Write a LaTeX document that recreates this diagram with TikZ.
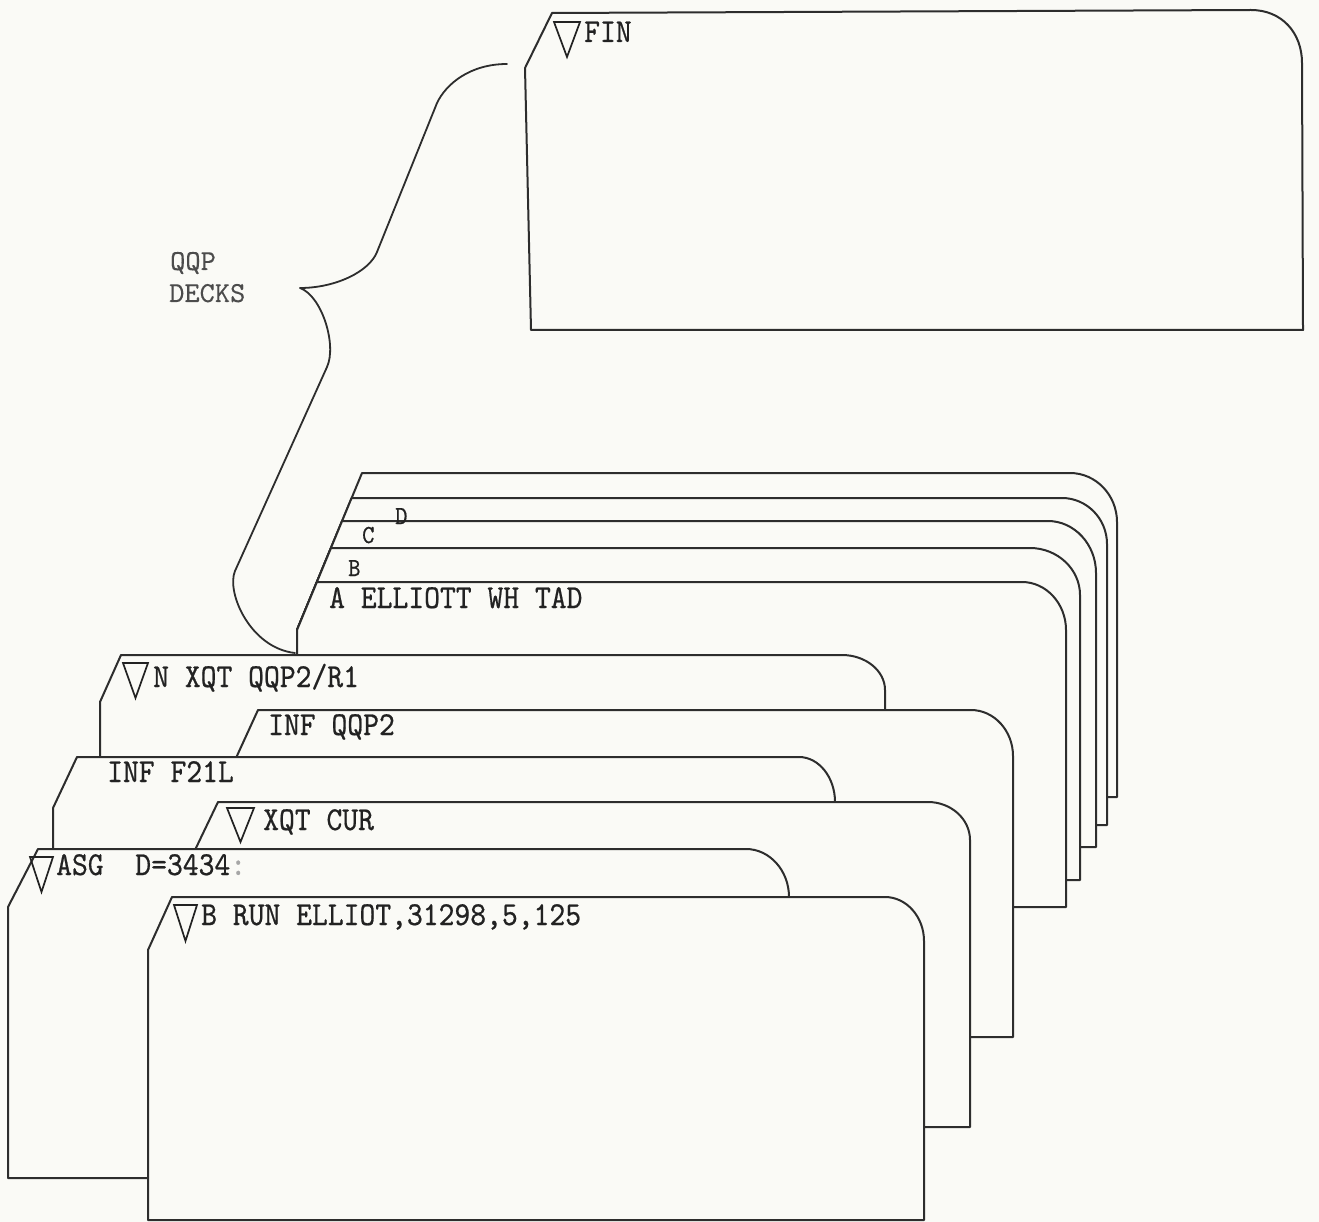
\documentclass[tikz,border=0pt]{standalone}
\usepackage{fontspec}
\setmonofont[FakeBold=0.6,FakeStretch=0.9]{lmmono10-regular.otf}
\newfontfamily\decksfont[FakeBold=0.2]{lmmono10-regular.otf}
\usepackage{tikz}
\definecolor{paper}{HTML}{FAFAF6}
\definecolor{ink}{HTML}{2D2D2D}
\definecolor{typ}{HTML}{222222}
\tikzset{
  cardline/.style={draw=ink, line width=2pt, fill=paper, line join=round},
  braceline/.style={draw=ink, line width=1.8pt, line cap=round, line join=round},
  tri/.style={draw=typ, line width=1.7pt, line join=miter},
  typed/.style={anchor=base west, inner sep=0pt, text=typ, font=\fontsize{33.5}{40}\selectfont\ttfamily},
  tablabel/.style={anchor=base west, inner sep=0pt, text=typ, font=\fontsize{26}{30}\selectfont\ttfamily},
  decklabel/.style={anchor=base west, inner sep=0pt, text=ink!85, font=\fontsize{29}{34}\selectfont\decksfont},
}
% #1,#2 top-left corner; #3,#4 end of slant; #5 right edge x; #6,#7 corner radii; #8 bottom y
\newcommand\cardshape[8]{%
  \path[cardline] (#1,#2) -- ({#5-#6},#2) .. controls ({#5-0.45*#6},#2) and (#5,{#2+0.45*#7}) .. (#5,{#2+#7}) -- (#5,#8) -- (#3,#8) -- (#3,#4) -- cycle;}
% #1,#2 left/right x; #3 top y; #4 bottom y
\newcommand\downtri[4]{%
  \path[tri] (#1,#3) -- (#2,#3) -- ({(#1+#2)/2},#4) -- cycle;}
\begin{document}
\begin{tikzpicture}[x=1pt,y=-1pt]
\path[fill=paper] (0,0) rectangle (1319,1222);
\useasboundingbox (0,0) rectangle (1319,1222);
% FIN card
\path[cardline] (552,13) -- (1251,10) .. controls (1282,10) and (1302,33) .. (1302,63) -- (1303,330) -- (531,330) -- (525,68) -- cycle;
% brace
\draw[braceline] (507,64) .. controls (470,64) and (446,84) .. (437,103) -- (377,252)
  .. controls (369,272) and (335,288) .. (300,288)
  .. controls (322,296) and (337,345) .. (327,367) -- (235,571)
  .. controls (226,592) and (250,648) .. (295,653);
% back deck cards (E, D, C, B, A): top-left corners on one slant line
\cardshape{362}{473}{297}{630}{1117}{47}{49}{797}
\cardshape{351.6}{498}{297}{630}{1107}{45}{46}{825}
\cardshape{342.1}{521}{297}{630}{1096}{48}{52}{847}
\cardshape{331}{548}{297}{630}{1080}{50}{47}{880}
\cardshape{316.9}{582}{297}{630}{1066}{44}{48}{907}
% front cards
\cardshape{121}{655}{100}{702}{885}{43}{35}{980}
\cardshape{258}{710}{236}{758}{1013}{42}{46}{1037}
\cardshape{77}{757}{53}{808}{835}{36}{45}{1082}
\cardshape{218}{802}{195}{850}{970}{42}{38}{1127}
\cardshape{38}{849}{8}{907}{789}{43}{48}{1178}
\cardshape{172}{897}{148}{950}{924}{39}{44}{1220}
% texts and marks
\downtri{554}{580}{22}{57}
\node[typed] (fin) at (584,42) {FIN};
\node[decklabel] (qqp) at (170,270) {QQP};
\node[decklabel] (decks) at (169,302) {DECKS};
\node[tablabel] (labD) at (395,524) {D};
\node[tablabel] (labC) at (362,543) {C};
\node[tablabel] (labB) at (348,576) {B};
\node[typed] (labA) at (329,608) {A ELLIOTT WH TAD};
\downtri{123}{148}{663}{698}
\node[typed] (nxqt) at (153,687) {N XQT QQP2/R1};
\node[typed] (infq) at (268,735) {INF QQP2};
\node[typed] (inff) at (107,782) {INF F21L};
\downtri{227}{254}{808}{842}
\node[typed] (xqtcur) at (263,830) {XQT CUR};
\downtri{30}{53}{857}{892}
\node[typed] (asg) at (56,875) {ASG\ \ D=3434{\color{gray!70}:}};
\downtri{174}{197}{905}{941}
\node[typed] (brun) at (201,925) {B RUN ELLIOT,31298,5,125};
\end{tikzpicture}
\end{document}
